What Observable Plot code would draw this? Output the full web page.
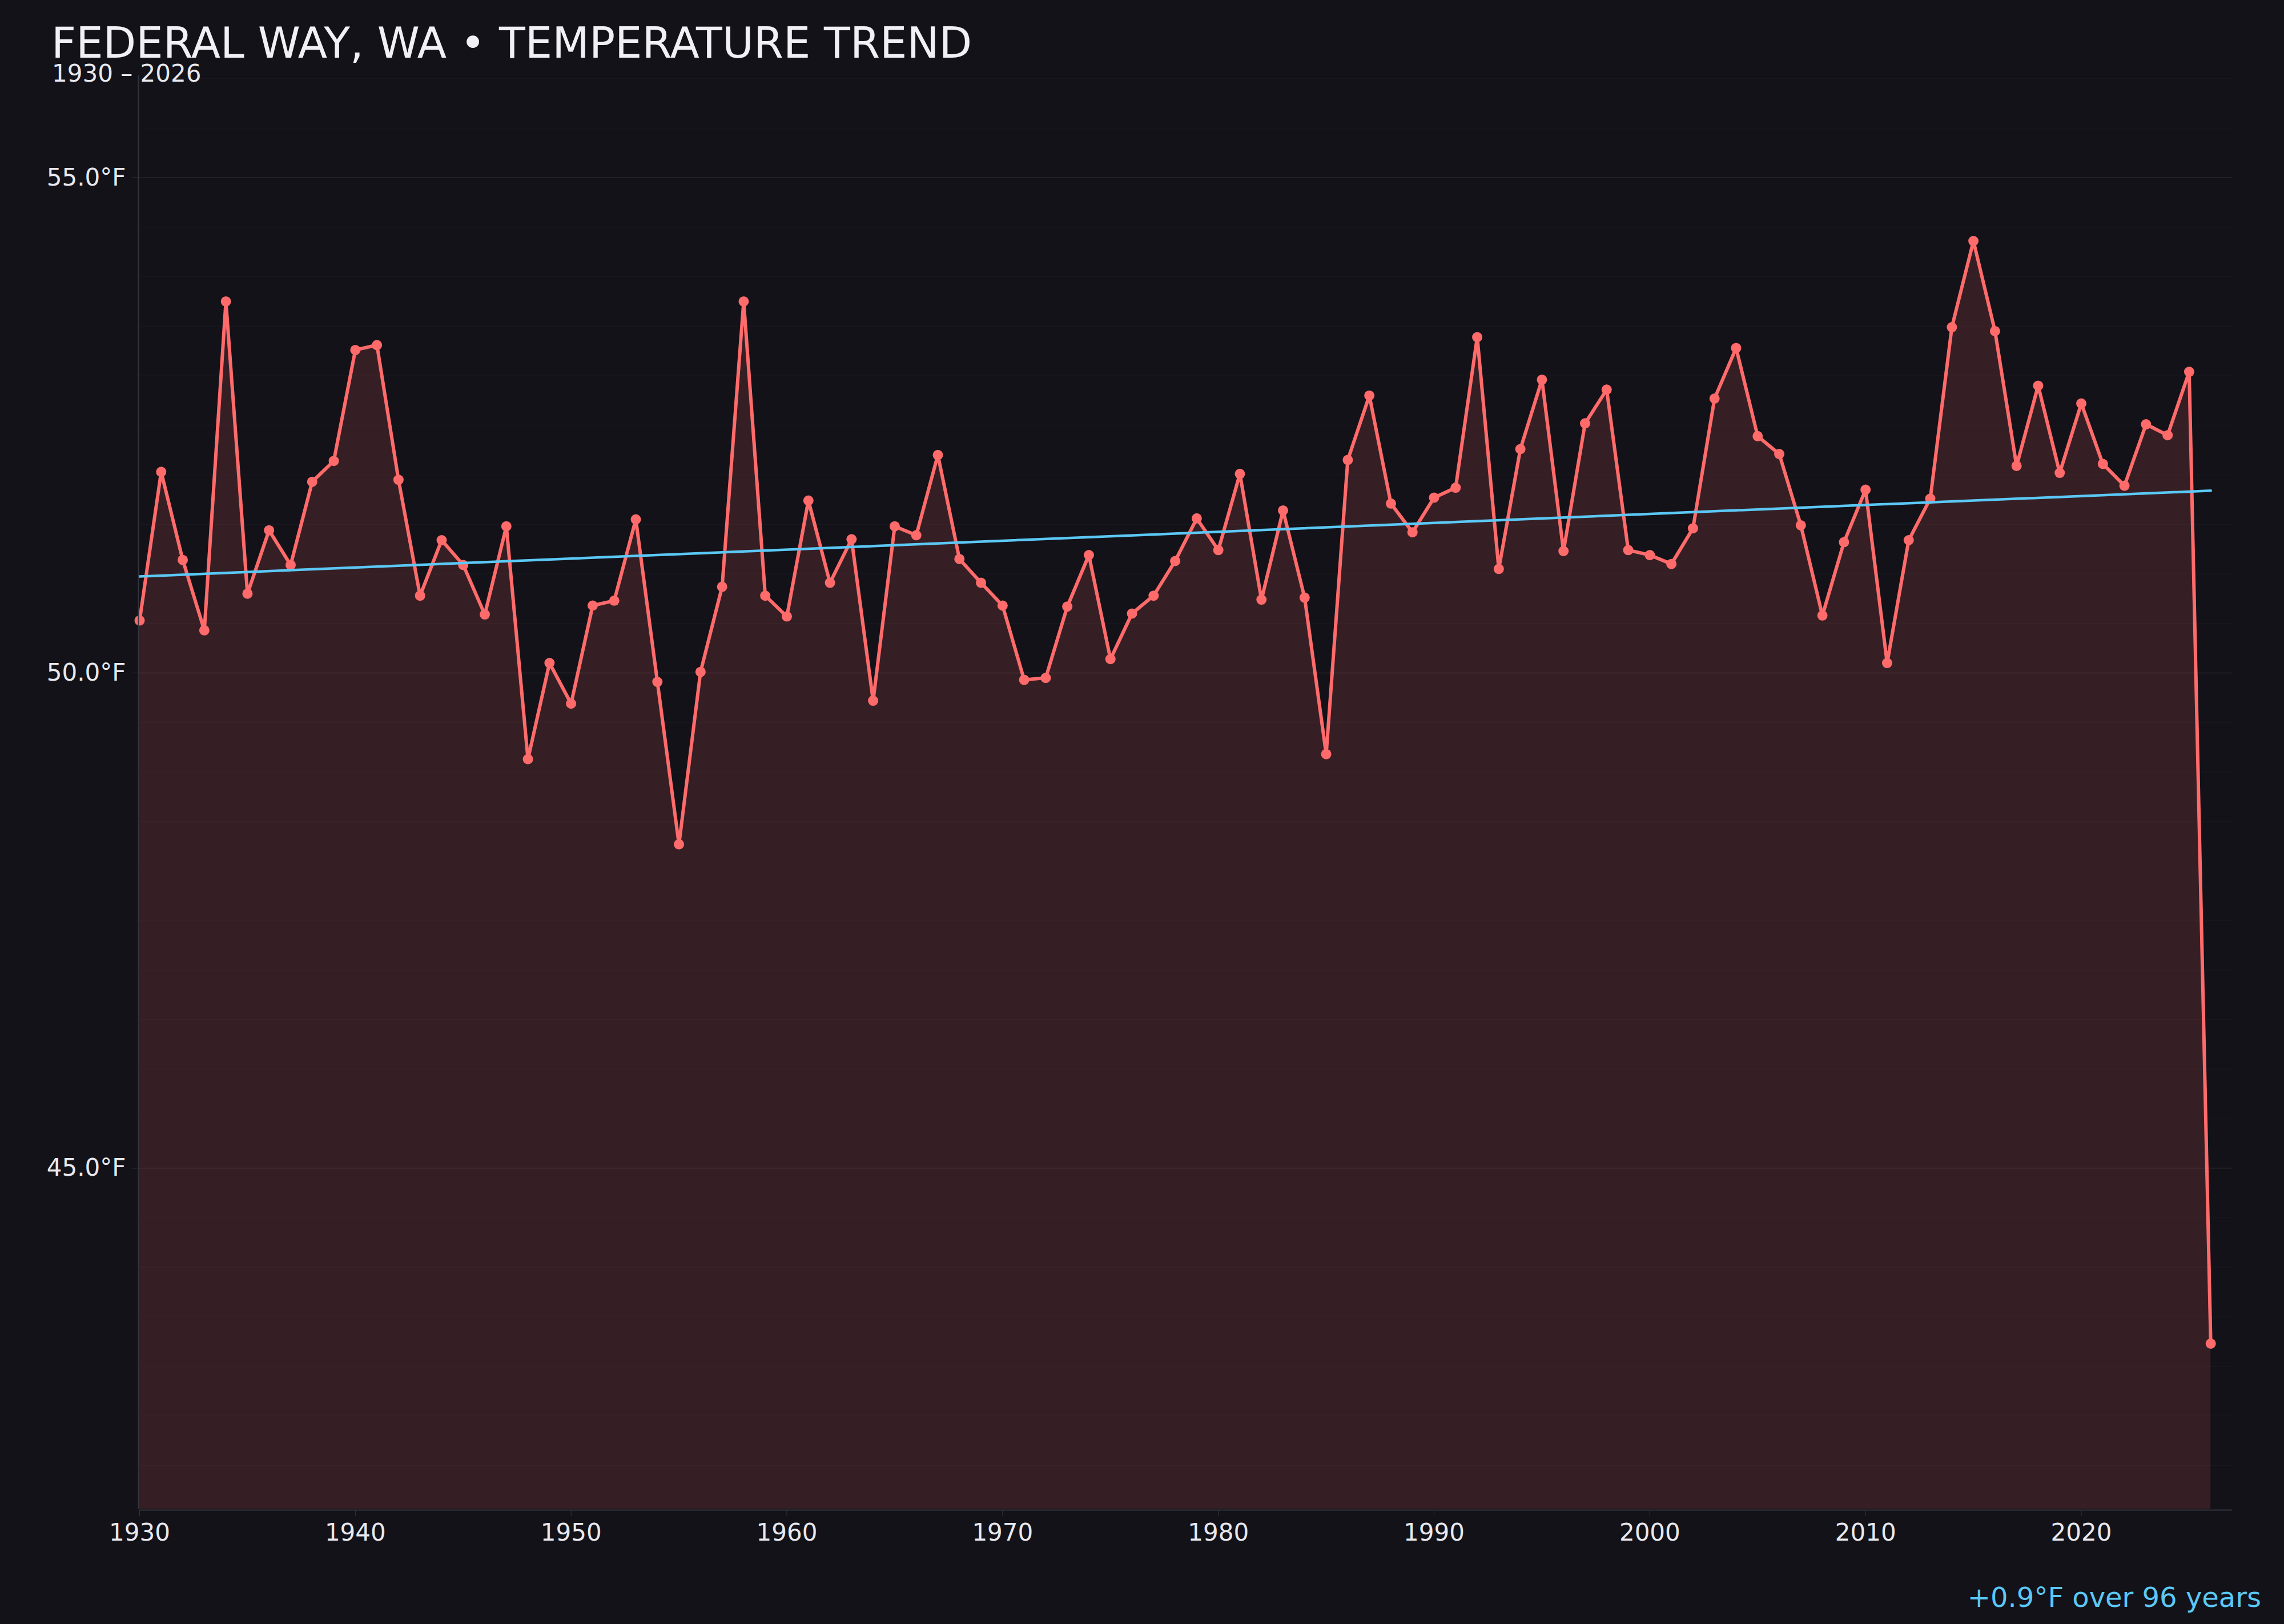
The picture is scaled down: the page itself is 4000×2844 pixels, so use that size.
<!DOCTYPE html>
<html>
<head>
<meta charset="utf-8">
<script src="https://cdn.jsdelivr.net/npm/d3@7"></script>
<script src="https://cdn.jsdelivr.net/npm/@observablehq/plot@0.6"></script>
<style>
  html, body { margin: 0; padding: 0; background: #131218; }
  #wrap { position: relative; width: 4000px; height: 2844px; background: #131218; font-family: "DejaVu Sans", sans-serif; overflow: hidden; }
  #title { position: absolute; left: 90px; top: 44px; font-size: 75px; line-height: 0.85; color: #f0f0f5; white-space: nowrap; }
  #subtitle { position: absolute; left: 91px; top: 108px; font-size: 42px; line-height: 1; color: #e8e8ee; white-space: nowrap; }
  #caption { position: absolute; right: 40px; top: 2773px; font-size: 48px; line-height: 1; color: #5bc8f5; white-space: nowrap; }
  #chart { position: absolute; left: 0; top: 0; }
</style>
</head>
<body>
<div id="wrap">
  <div id="chart"></div>
  <div id="title">FEDERAL WAY, WA • TEMPERATURE TREND</div>
  <div id="subtitle">1930 – 2026</div>
  <div id="caption">+0.9°F over 96 years</div>
</div>
<script>
// ---- data ----
const years = d3.range(1930, 2027);
const temps = [
  50.53, 52.03, 51.14, 50.43, 53.75, 50.80, 51.44, 51.09, 51.93, 52.14, // 1930s
  53.26, 53.31, 51.95, 50.78, 51.34, 51.09, 50.59, 51.48, 49.13, 50.10, // 1940s
  49.69, 50.68, 50.73, 51.55, 49.91, 48.27, 50.01, 50.87, 53.75, 50.78, // 1950s
  50.57, 51.74, 50.91, 51.35, 49.72, 51.48, 51.39, 52.20, 51.15, 50.91, // 1960s
  50.68, 49.93, 49.95, 50.67, 51.19, 50.14, 50.60, 50.78, 51.13, 51.56, // 1970s
  51.24, 52.01, 50.74, 51.64, 50.76, 49.18, 52.15, 52.80, 51.71, 51.42, // 1980s
  51.77, 51.87, 53.39, 51.05, 52.26, 52.96, 51.23, 52.52, 52.86, 51.24, // 1990s
  51.19, 51.10, 51.46, 52.77, 53.28, 52.39, 52.21, 51.49, 50.58, 51.32, // 2000s
  51.85, 50.10, 51.34, 51.76, 53.49, 54.36, 53.45, 52.09, 52.90, 52.02, // 2010s
  52.72, 52.11, 51.89, 52.51, 52.40, 53.04, 43.23                        // 2020s
];
const xTicks = [1930, 1940, 1950, 1960, 1970, 1980, 1990, 2000, 2010, 2020];
const yTicks = [45, 50, 55];
const yMinorTicks = [42, 42.5, 43, 43.5, 44, 44.5, 45, 45.5, 46, 46.5, 47, 47.5, 48, 48.5, 49, 49.5, 50, 50.5, 51, 51.5, 52, 52.5, 53, 53.5, 54, 54.5, 55, 55.5, 56];
const trendYears = [1930, 2026];

// ---- derived tables ----
const data = years.map((year, i) => ({year, temp: temps[i]}));
const lo = d3.min(temps), hi = d3.max(temps), span = hi - lo;
const yDomain = [lo - 0.15 * span, hi + 0.15 * span];

// least-squares trend over all years
const mx = d3.mean(data, d => d.year), my = d3.mean(data, d => d.temp);
const slope = d3.sum(data, d => (d.year - mx) * (d.temp - my)) / d3.sum(data, d => (d.year - mx) ** 2);
const trend = trendYears.map(year => ({year, temp: my + slope * (year - mx)}));

const RED = "#ff6b6b";
const BLUE = "#5bc8f5";
const AXIS = "#34343e";

const chart = Plot.plot({
  width: 4000,
  height: 2844,
  marginTop: 132,
  marginBottom: 202,
  marginLeft: 244,
  marginRight: 91,
  style: {background: "transparent", color: "#e8e8ee", fontFamily: "DejaVu Sans", fontSize: "42px", overflow: "visible"},
  x: {domain: [1930, 2027], label: null},
  y: {domain: yDomain, label: null},
  marks: [
    Plot.ruleY(yMinorTicks, {stroke: "#ffffff", strokeOpacity: 0.025, strokeWidth: 1.5}),
    Plot.ruleY(yTicks, {stroke: "#ffffff", strokeOpacity: 0.05, strokeWidth: 2}),
    Plot.areaY(data, {x: "year", y1: yDomain[0], y2: "temp", fill: RED, fillOpacity: 0.15, curve: "linear"}),
    Plot.line(data, {x: "year", y: "temp", stroke: RED, strokeWidth: 6, strokeLinejoin: "round", strokeLinecap: "round"}),
    Plot.dot(data, {x: "year", y: "temp", r: 9, fill: RED, stroke: "none"}),
    Plot.line(trend, {x: "year", y: "temp", stroke: BLUE, strokeWidth: 4.5}),
    Plot.ruleX([1930], {stroke: AXIS, strokeWidth: 2, dx: -2}),
    Plot.ruleY([yDomain[0]], {stroke: AXIS, strokeWidth: 2, dy: 2}),
    Plot.axisY({ticks: yTicks, tickFormat: d => d.toFixed(1) + "°F", tickSize: 11, tickPadding: 11, dx: -2, stroke: AXIS, fill: "#e8e8ee", label: null}),
    Plot.axisX({ticks: xTicks, tickFormat: d => String(d), tickSize: 11, tickPadding: 13, dy: 2, stroke: AXIS, fill: "#e8e8ee", label: null})
  ]
});
document.getElementById("chart").appendChild(chart);
</script>
</body>
</html>
